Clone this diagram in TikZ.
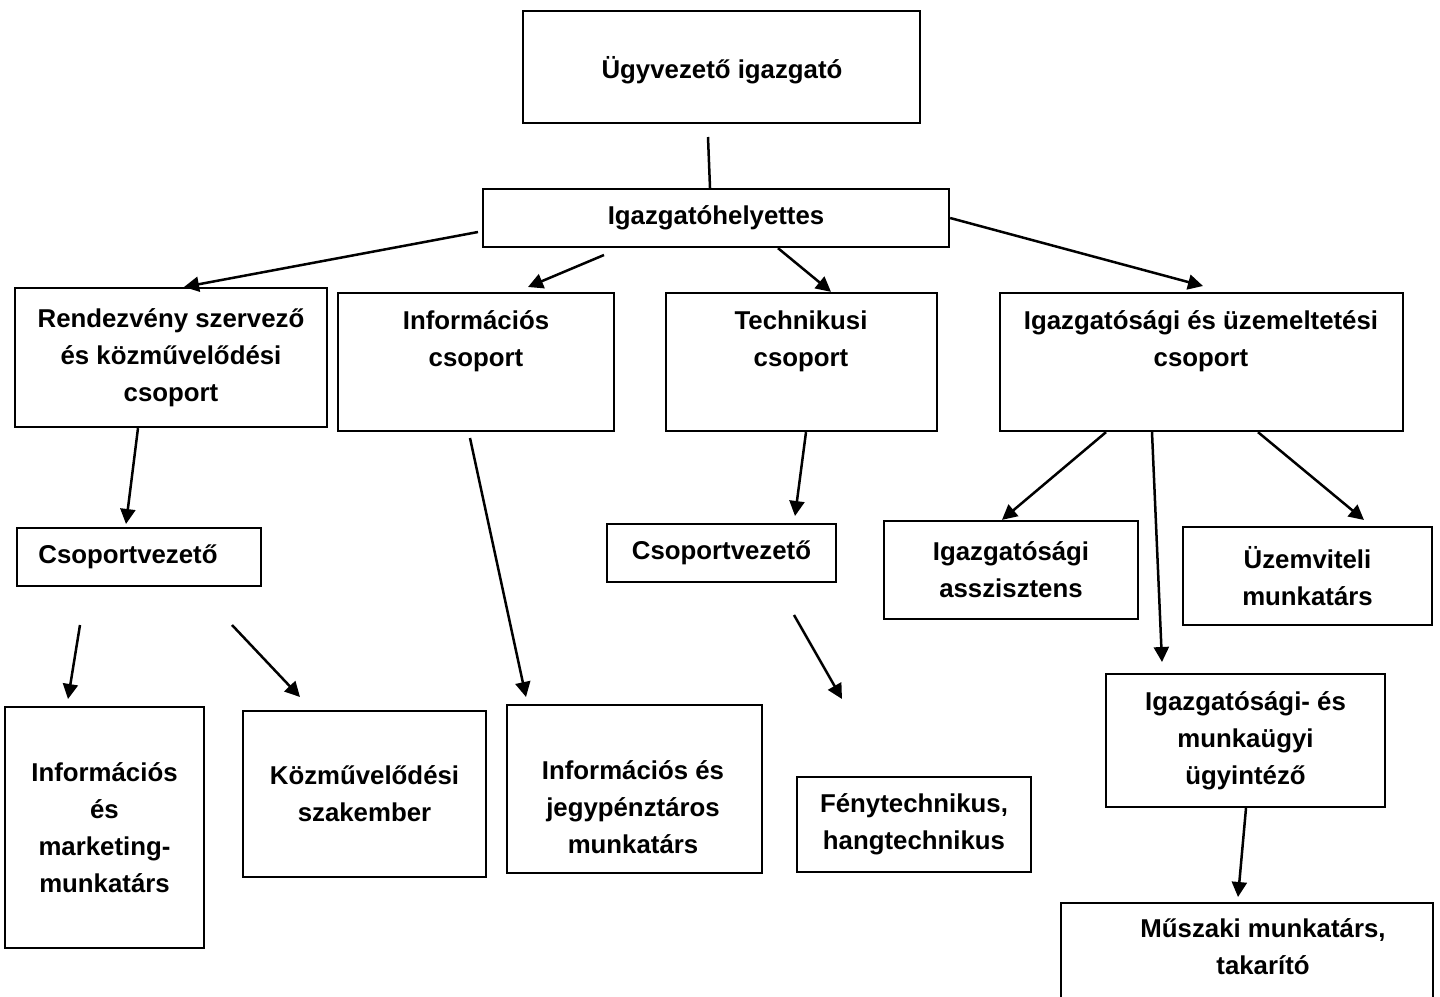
\documentclass[tikz,border=0pt]{standalone}
\usepackage{fontspec}
\setmainfont{Liberation Sans}
\usetikzlibrary{arrows.meta}
\begin{document}
\begin{tikzpicture}[x=0.5pt,y=-0.5pt,
  txt/.style={font=\bfseries\fontsize{12.9}{18.5}\selectfont},
  box/.style={draw, line width=1.15pt, inner sep=0pt, align=center, txt},
  lbl/.style={inner sep=0pt, align=center, txt},
  arr/.style={line width=1.25pt, -{Triangle[length=7.5pt,width=7.5pt]}},
  ln/.style={line width=1.25pt}]
\clip (0,0) rectangle (1440,996);
% boxes
\node[box, minimum width=198.5pt, minimum height=56pt] (b1) at (721.5,67) {};
\node[lbl] (t1) at (722,70) {Ügyvezető igazgató};
\node[box, minimum width=233pt, minimum height=29pt] (b2) at (716,218) {Igazgatóhelyettes};
\node[box, minimum width=156pt, minimum height=69.5pt] (b3) at (171,357.5) {Rendezvény szervező\\és közművelődési\\csoport};
\node[box, minimum width=138pt, minimum height=69pt] (b4) at (476,362) {};
\node[lbl] (t4) at (476,341) {Információs\\csoport};
\node[box, minimum width=135.5pt, minimum height=69pt] (b5) at (801.5,362) {};
\node[lbl] (t5) at (801,341) {Technikusi\\csoport};
\node[box, minimum width=201.5pt, minimum height=69pt] (b6) at (1201.5,362) {};
\node[lbl] (t6) at (1201,341) {Igazgatósági és üzemeltetési\\csoport};
\node[box, minimum width=122pt, minimum height=29pt] (b7) at (139,557) {};
\node[lbl] (t7) at (128,557) {Csoportvezető};
\node[box, minimum width=114.5pt, minimum height=29pt] (b8) at (721.5,553) {Csoportvezető};
\node[box, minimum width=127pt, minimum height=49pt] (b9) at (1011,570) {Igazgatósági\\asszisztens};
\node[box, minimum width=124.5pt, minimum height=49pt] (b10) at (1307.5,576) {Üzemviteli\\munkatárs};
\node[box, minimum width=139.5pt, minimum height=66.5pt] (b11) at (1245.5,740.5) {Igazgatósági- és\\munkaügyi\\ügyintéző};
\node[box, minimum width=99.5pt, minimum height=120.5pt] (b12) at (104.5,827.5) {Információs\\és\\marketing-\\munkatárs};
\node[box, minimum width=121.5pt, minimum height=83pt] (b13) at (364.5,794) {Közművelődési\\szakember};
\node[box, minimum width=127.5pt, minimum height=84pt] (b14) at (634.5,789) {};
\node[lbl] (t14) at (633,807) {Információs és\\jegypénztáros\\munkatárs};
\node[box, minimum width=117pt, minimum height=47.5pt] (b15) at (914,824.5) {Fénytechnikus,\\hangtechnikus};
\node[box, minimum width=186pt, minimum height=53.5pt] (b16) at (1247,956.5) {};
\node[lbl] (t16) at (1263,947) {Műszaki munkatárs,\\takarító};
% free connector ends
\coordinate (s1) at (708,137);
\coordinate (s2) at (478,232);
\coordinate (e2) at (184,287);
\coordinate (s3) at (604,255);
\coordinate (e3) at (528,287);
\coordinate (e5) at (1203,286);
\coordinate (e6) at (126,524);
\coordinate (s7) at (470,438);
\coordinate (e7) at (526,697);
\coordinate (e8) at (795,516);
\coordinate (e10) at (1162,662);
\coordinate (e11) at (1364,520);
\coordinate (s12) at (80,625);
\coordinate (e12) at (68,699);
\coordinate (s13) at (232,625);
\coordinate (e13) at (300,697);
\coordinate (s14) at (794,615);
\coordinate (e14) at (842,699);
\coordinate (e15) at (1238,897);
% connectors
\draw[ln] (s1) -- (b2.north -| 710,0);
\draw[arr] (s2) -- (e2);
\draw[arr] (s3) -- (e3);
\draw[arr] (b2.south -| 778,0) -- (b5.north -| 831,0);
\draw[arr] (b2.east) -- (e5);
\draw[arr] (b3.south -| 138,0) -- (e6);
\draw[arr] (s7) -- (e7);
\draw[arr] (b5.south -| 806,0) -- (e8);
\draw[arr] (b6.south -| 1106,0) -- (b9.north -| 1002,0);
\draw[arr] (b6.south -| 1152,0) -- (e10);
\draw[arr] (b6.south -| 1258,0) -- (e11);
\draw[arr] (s12) -- (e12);
\draw[arr] (s13) -- (e13);
\draw[arr] (s14) -- (e14);
\draw[arr] (b11.south -| 1246,0) -- (e15);
\end{tikzpicture}
\end{document}
